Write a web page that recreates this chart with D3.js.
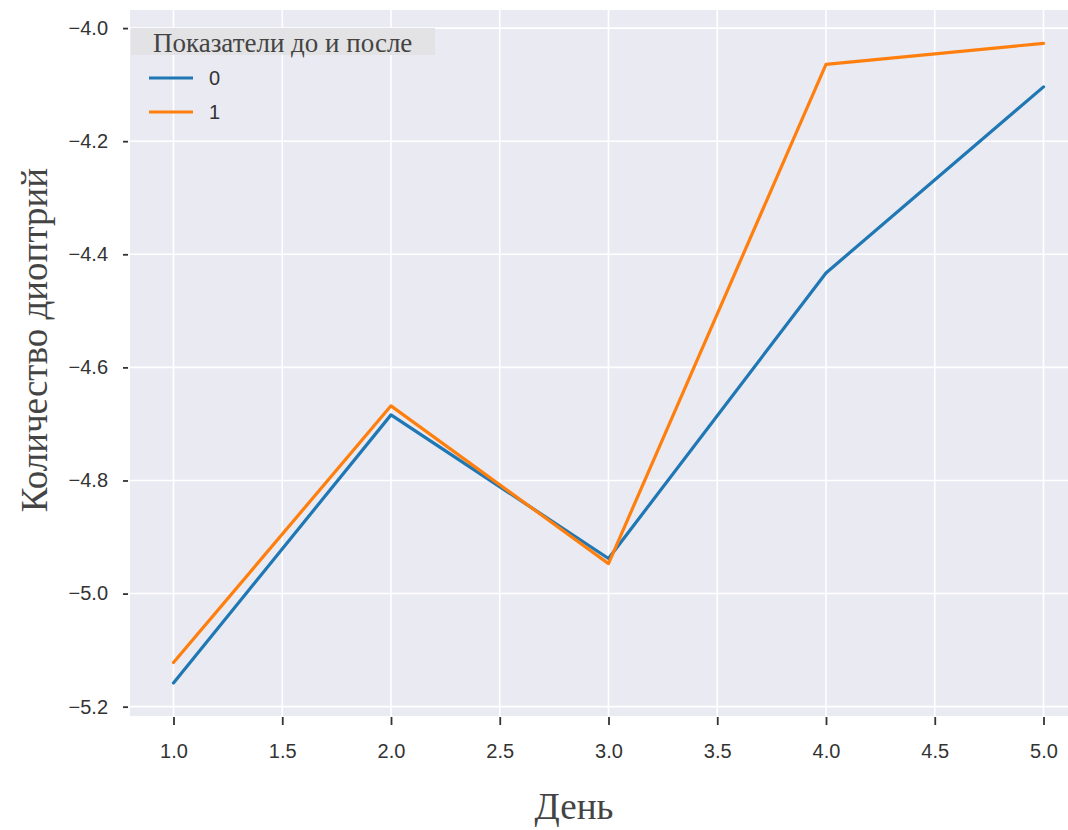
<!DOCTYPE html>
<html><head><meta charset="utf-8">
<script src="https://cdn.jsdelivr.net/npm/d3@7"></script>
<style>body{margin:0;background:#fff}svg{display:block}</style>
</head><body><svg id="c" width="1068" height="830"></svg>
<script>
const days = [1, 2, 3, 4, 5];
const series0 = [-5.158, -4.684, -4.938, -4.433, -4.104];
const series1 = [-5.122, -4.668, -4.947, -4.064, -4.027];
const seriesNames = ["0", "1"];
const colors = ["#1f77b4", "#ff7f0e"];
const xTicks = [1.0, 1.5, 2.0, 2.5, 3.0, 3.5, 4.0, 4.5, 5.0];
const yTicks = [-5.2, -5.0, -4.8, -4.6, -4.4, -4.2, -4.0];
const xLabel = "День", yLabel = "Количество диоптрий", legendTitle = "Показатели до и после";

const svg = d3.select("#c");
const L = 130, R = 1087, T = 10, B = 716;
const x = d3.scaleLinear().domain([0.8, 5.2]).range([L, R]);
const y = d3.scaleLinear().domain([-5.2165, -3.968]).range([B, T]);

svg.append("rect").attr("x", L).attr("y", T).attr("width", R - L).attr("height", B - T).attr("fill", "#eaeaf2");
const g = svg.append("g");
g.selectAll(".vg").data(xTicks).join("line").attr("x1", d => x(d)).attr("x2", d => x(d)).attr("y1", T).attr("y2", B).attr("stroke", "#fff").attr("stroke-width", 1.6);
g.selectAll(".hg").data(yTicks).join("line").attr("y1", d => y(d)).attr("y2", d => y(d)).attr("x1", L).attr("x2", R).attr("stroke", "#fff").attr("stroke-width", 1.6);

const fmt = d => d3.format(".1f")(d).replace("-", "\u2212");
const xAxis = svg.append("g").attr("transform", `translate(0,${B + 1})`)
  .call(d3.axisBottom(x).tickValues(xTicks).tickFormat(fmt).tickSize(8).tickPadding(19));
const yAxis = svg.append("g").attr("transform", `translate(${L - 2},0)`)
  .call(d3.axisLeft(y).tickValues(yTicks).tickFormat(fmt).tickSize(5).tickPadding(15));
[xAxis, yAxis].forEach(a => {
  a.select(".domain").remove();
  a.selectAll(".tick line").attr("stroke", "#333").attr("stroke-width", 1.8);
  a.selectAll(".tick text").attr("fill", "#333").attr("font-family", "Liberation Sans, Arial, sans-serif").attr("font-size", 20);
});

const line = d3.line().x((d, i) => x(days[i])).y(d => y(d));
[series0, series1].forEach((s, i) => {
  svg.append("path").datum(s).attr("d", line).attr("fill", "none").attr("stroke", colors[i])
    .attr("stroke-width", 3.2).attr("stroke-linecap", "round").attr("stroke-linejoin", "round");
});

// legend
svg.append("rect").attr("x", 131).attr("y", 28).attr("width", 304).attr("height", 27).attr("fill", "#e3e3e6");
svg.append("text").attr("x", 153).attr("y", 52).text(legendTitle)
  .attr("font-family", "Liberation Serif, serif").attr("font-size", 27).attr("fill", "#444");
seriesNames.forEach((n, i) => {
  const yy = 78 + i * 34;
  svg.append("line").attr("x1", 149).attr("x2", 193).attr("y1", yy).attr("y2", yy).attr("stroke", colors[i]).attr("stroke-width", 3.2);
  svg.append("text").attr("x", 209).attr("y", yy + 7).text(n).attr("font-family", "Liberation Sans, Arial, sans-serif").attr("font-size", 20).attr("fill", "#333");
});

svg.append("text").attr("x", 574).attr("y", 819).attr("text-anchor", "middle").text(xLabel)
  .attr("font-family", "Liberation Serif, serif").attr("font-size", 37).attr("fill", "#444");
svg.append("text").attr("transform", "translate(47,340) rotate(-90)").attr("text-anchor", "middle").text(yLabel)
  .attr("font-family", "Liberation Serif, serif").attr("font-size", 37).attr("fill", "#444");
</script></body></html>
